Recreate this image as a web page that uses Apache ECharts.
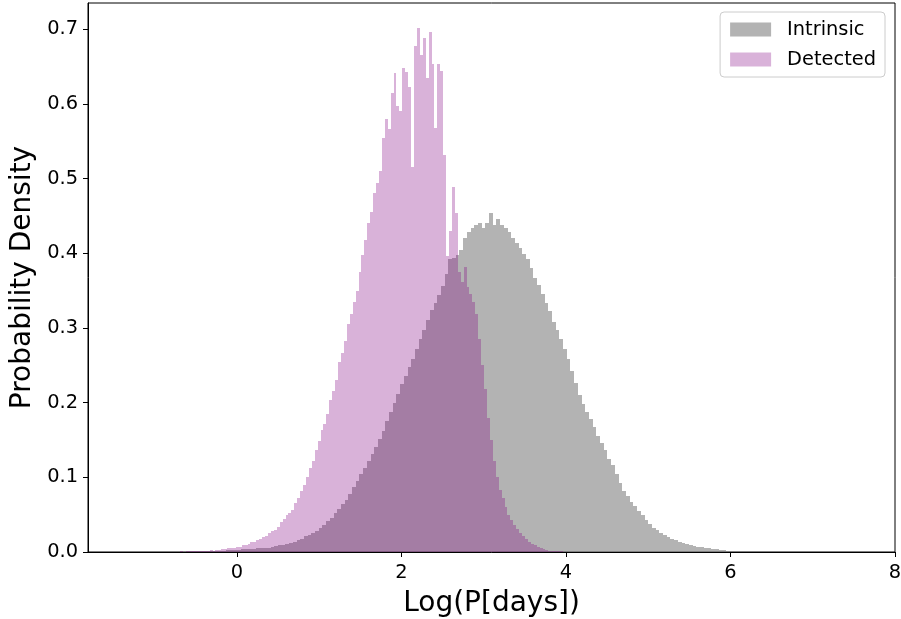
<!DOCTYPE html>
<html>
<head>
<meta charset="utf-8">
<script src="https://cdn.jsdelivr.net/npm/echarts@6/dist/echarts.min.js"></script>
<style>
html,body{margin:0;padding:0;background:#fff;}
#chart{width:901px;height:619px;}
</style>
</head>
<body>
<div id="chart"></div>
<script>
// ---- Data ----
const seriesNames = ['Intrinsic', 'Detected'];
const xTickValues = [0, 2, 4, 6, 8];
const yTickValues = [0, 0.1, 0.2, 0.3, 0.4, 0.5, 0.6, 0.7];

// Intrinsic histogram: bin start, bin width, heights
const intrinsicStart = -0.76;
const intrinsicWidth = 0.045;
const intrinsic = [
0.0005,0.0005,0.000,0.001,0.0005,0.001,0.001,0.001,0.001,0.0015,
0.0015,0.002,0.002,0.002,0.0025,0.003,0.003,0.003,0.0035,0.004,
0.004,0.0045,0.005,0.005,0.006,0.006,0.007,0.008,0.009,0.010,
0.011,0.012,0.013,0.016,0.018,0.021,0.023,0.026,0.028,0.032,
0.036,0.041,0.046,0.052,0.058,0.064,0.070,0.078,0.087,0.095,
0.104,0.113,0.122,0.131,0.141,0.151,0.162,0.175,0.188,0.199,
0.212,0.225,0.236,0.248,0.259,0.272,0.285,0.297,0.311,0.324,
0.334,0.344,0.356,0.372,0.392,0.394,0.398,0.404,0.420,0.428,
0.434,0.438,0.440,0.434,0.441,0.454,0.438,0.446,0.438,0.434,
0.428,0.421,0.414,0.407,0.399,0.392,0.380,0.367,0.357,0.345,
0.334,0.322,0.308,0.297,0.285,0.272,0.258,0.242,0.226,0.210,
0.198,0.188,0.178,0.167,0.155,0.146,0.136,0.125,0.116,0.104,
0.092,0.082,0.075,0.067,0.061,0.055,0.049,0.043,0.037,0.032,
0.029,0.026,0.023,0.020,0.018,0.016,0.014,0.012,0.011,0.010,
0.008,0.007,0.007,0.006,0.005,0.004,0.004,0.003,0.003,0.002,
0.002,0.0015,0.001,0.001,0.001,0.0005,0.0005,0.0005,0.000,0.0005
];

// Detected histogram: bin start, bin width, heights
const detectedStart = -0.758;
const detectedWidth = 0.0355;
const detected = [
0.0005,0.000,0.001,0.000,0.001,0.001,0.001,0.002,0.001,0.002,
0.002,0.002,0.003,0.002,0.003,0.003,0.004,0.004,0.005,0.005,
0.006,0.007,0.007,0.009,0.010,0.011,0.013,0.014,0.016,0.018,
0.020,0.021,0.025,0.028,0.030,0.034,0.040,0.044,0.050,0.052,
0.056,0.066,0.072,0.081,0.090,0.101,0.112,0.122,0.136,0.149,
0.163,0.172,0.185,0.203,0.215,0.230,0.254,0.266,0.282,0.305,
0.318,0.335,0.350,0.375,0.398,0.418,0.440,0.455,0.480,0.494,
0.510,0.554,0.580,0.566,0.614,0.641,0.597,0.590,0.648,0.643,
0.622,0.515,0.677,0.701,0.665,0.688,0.634,0.696,0.654,0.568,
0.654,0.644,0.531,0.396,0.430,0.489,0.454,0.375,0.361,0.382,
0.355,0.345,0.335,0.318,0.285,0.250,0.218,0.180,0.150,0.122,
0.100,0.083,0.072,0.060,0.050,0.043,0.036,0.031,0.026,0.021,
0.017,0.014,0.011,0.009,0.007,0.005,0.004,0.003,0.002,0.002,
0.001,0.001,0.001
];

// ---- Build ----
function toBins(start, width, heights) {
  return heights.map((h, i) => [start + i * width, start + (i + 1) * width, h]);
}

function makeRender(fill) {
  return function (params, api) {
    const x0 = api.value(0), x1 = api.value(1), y = api.value(2);
    const p0 = api.coord([x0, y]);
    const p1 = api.coord([x1, 0]);
    const l = Math.round(p0[0]), r = Math.round(p1[0]);
    const t = Math.round(p0[1]), b = Math.round(p1[1]);
    return {
      type: 'rect',
      shape: { x: l, y: t, width: r - l, height: b - t },
      style: { fill: fill }
    };
  };
}

const colIntrinsic = 'rgba(128,128,128,0.6)';
const colDetected = 'rgba(128,0,128,0.3)';
const FONT = 'DejaVu Sans';

const chart = echarts.init(document.getElementById('chart'), null, { renderer: 'canvas' });
chart.setOption({
  animation: false,
  backgroundColor: '#fff',
  grid: {
    left: 88, right: 6, top: 3, bottom: 67,
    outerBoundsMode: 'none',
    containLabel: false,
    show: true, borderColor: '#000', borderWidth: 1, backgroundColor: 'transparent'
  },
  legend: {
    orient: 'vertical',
    right: 16, top: 12,
    padding: [8, 9, 8, 10],
    itemWidth: 41, itemHeight: 14,
    itemGap: 11,
    borderColor: '#cccccc', borderWidth: 1, borderRadius: 4,
    icon: 'rect',
    textStyle: { fontFamily: FONT, fontSize: 19.4, color: '#000', padding: [0, 0, 0, 11] },
    data: [
      { name: seriesNames[0], itemStyle: { color: colIntrinsic } },
      { name: seriesNames[1], itemStyle: { color: colDetected } }
    ]
  },
  xAxis: {
    type: 'value',
    min: -1.81, max: 8.0,
    name: 'Log(P[days])',
    nameLocation: 'middle',
    nameGap: 38,
    nameTextStyle: { fontFamily: FONT, fontSize: 28, color: '#000' },
    axisLine: { show: true, onZero: false, lineStyle: { color: '#000', width: 1 } },
    axisTick: { show: true, inside: false, length: 5, customValues: xTickValues, lineStyle: { color: '#000' } },
    axisLabel: { customValues: xTickValues, fontFamily: FONT, fontSize: 19.4, color: '#000', margin: 11,
                 formatter: v => String(v) },
    splitLine: { show: false }
  },
  yAxis: {
    type: 'value',
    min: 0, max: 0.735,
    name: 'Probability Density',
    nameLocation: 'middle',
    nameGap: 46,
    nameRotate: 90,
    nameTextStyle: { fontFamily: FONT, fontSize: 28, color: '#000' },
    axisLine: { show: true, onZero: false, lineStyle: { color: '#000', width: 1 } },
    axisTick: { show: true, inside: false, length: 5, customValues: yTickValues, lineStyle: { color: '#000' } },
    axisLabel: { customValues: yTickValues, fontFamily: FONT, fontSize: 19.4, color: '#000', margin: 10,
                 formatter: v => v.toFixed(1) },
    splitLine: { show: false }
  },
  series: [
    {
      name: seriesNames[0],
      type: 'custom',
      renderItem: makeRender(colIntrinsic),
      itemStyle: { color: colIntrinsic },
      encode: { x: [0, 1], y: 2 },
      data: toBins(intrinsicStart, intrinsicWidth, intrinsic),
      clip: true
    },
    {
      name: seriesNames[1],
      type: 'custom',
      renderItem: makeRender(colDetected),
      itemStyle: { color: colDetected },
      encode: { x: [0, 1], y: 2 },
      data: toBins(detectedStart, detectedWidth, detected),
      clip: true
    }
  ]
});
</script>
</body>
</html>
